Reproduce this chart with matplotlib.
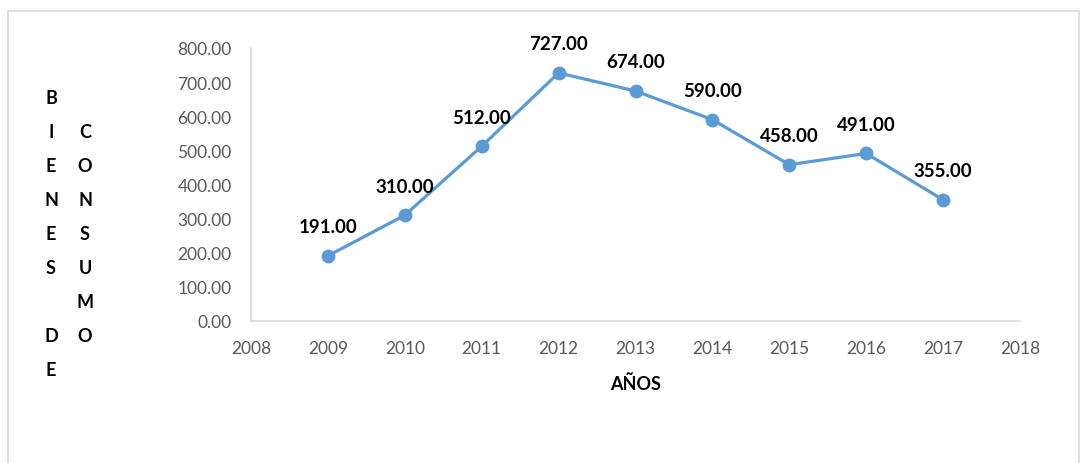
import matplotlib
matplotlib.use("Agg")
import matplotlib.pyplot as plt
from matplotlib.patches import Rectangle

# Data
years = [2009, 2010, 2011, 2012, 2013, 2014, 2015, 2016, 2017]
values = [191, 310, 512, 727, 674, 590, 458, 491, 355]
yticks = [0, 100, 200, 300, 400, 500, 600, 700, 800]
xticks = list(range(2008, 2019))
col1 = ["B", "I", "E", "N", "E", "S", "", "D", "E"]
col2 = ["C", "O", "N", "S", "U", "M", "O"]

plt.rcParams['font.family'] = ['Lato', 'DejaVu Sans']

W, H = 1087, 464
fig = plt.figure(figsize=(W / 100, H / 100), dpi=100)

# outer chart border
fig.patches.append(Rectangle((8 / W, -0.02), 1071 / W, 1 - 12 / H + 0.02,
                             transform=fig.transFigure, fill=False,
                             edgecolor='#d9d9d9', linewidth=1.2))

ax = fig.add_axes([251 / W, 1 - 322 / H, (1020 - 251) / W, (322 - 49) / H])
ax.plot(years, values, color='#5b9bd5', linewidth=2.3, marker='o',
        markersize=9, markerfacecolor='#5b9bd5', markeredgecolor='#5b9bd5')

for x, v in zip(years, values):
    ax.annotate(f"{v:.2f}", (x, v), xytext=(0, 21), textcoords='offset points',
                ha='center', va='center', fontsize=13.5, fontweight='bold',
                color='black')

ax.set_xlim(2008, 2018)
ax.set_ylim(0, 800)
ax.set_xticks(xticks)
ax.set_yticks(yticks)
ax.set_yticklabels([f"{t:.2f}" for t in yticks])
ax.tick_params(length=0, labelsize=12.5, labelcolor='#595959', pad=14)

for s in ['top', 'right']:
    ax.spines[s].set_visible(False)
for s in ['left', 'bottom']:
    ax.spines[s].set_color('#d9d9d9')
    ax.spines[s].set_linewidth(1.2)

ax.set_xlabel("AÑOS", fontsize=13, fontweight='bold', labelpad=13)

# stacked vertical y-axis title
for i, ch in enumerate(col1):
    fig.text(51 / W, 1 - (99 + 34 * i) / H, ch, ha='center', va='center',
             fontsize=13, fontweight='bold')
for i, ch in enumerate(col2):
    fig.text(85 / W, 1 - (133 + 34 * i) / H, ch, ha='center', va='center',
             fontsize=13, fontweight='bold')

fig.savefig("out.png", dpi=100)
